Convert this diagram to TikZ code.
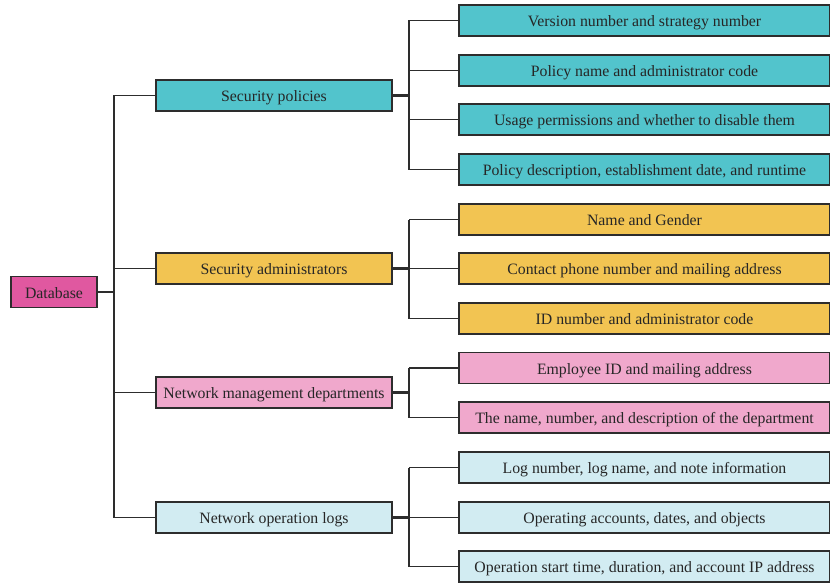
\documentclass[tikz,border=0pt]{standalone}
\usepackage{fontspec}
\setmainfont{Liberation Serif}
\definecolor{cteal}{RGB}{82,196,204}
\definecolor{cyel}{RGB}{242,196,82}
\definecolor{cdb}{RGB}{224,88,160}
\definecolor{cpink}{RGB}{240,168,204}
\definecolor{cblue}{RGB}{210,236,242}
\definecolor{cline}{RGB}{45,45,45}
\begin{document}
\begin{tikzpicture}[x=1pt,y=-1pt,
  box/.style={draw=cline,line width=1.5pt,minimum height=31pt,inner sep=0pt,font=\fontsize{15.8}{18}\selectfont,text=black!85,text height=12.5pt,text depth=0.5pt},
  lone/.style={box,minimum width=236pt},
  ltwo/.style={box,minimum width=371pt},
  conn/.style={draw=cline,line width=1.4pt},
  stub/.style={draw=cline,line width=2.2pt}]
\useasboundingbox (0,0) rectangle (830,583);
\node[box,fill=cdb,minimum width=86pt] (db) at (54,292) {Database};
\node[lone,fill=cteal] (sp) at (274,95.5) {Security policies};
\node[lone,fill=cyel] (sa) at (274,268.5) {Security administrators};
\node[lone,fill=cpink] (nm) at (274,392.5) {Network management departments};
\node[lone,fill=cblue] (nl) at (274,517.5) {Network operation logs};
\node[ltwo,fill=cteal] (a1) at (644.5,20.5) {Version number and strategy number};
\node[ltwo,fill=cteal] (a2) at (644.5,70.5) {Policy name and administrator code};
\node[ltwo,fill=cteal] (a3) at (644.5,119.5) {Usage permissions and whether to disable them};
\node[ltwo,fill=cteal] (a4) at (644.5,169.5) {Policy description, establishment date, and runtime};
\node[ltwo,fill=cyel] (b1) at (644.5,219.5) {Name and Gender};
\node[ltwo,fill=cyel] (b2) at (644.5,268.5) {Contact phone number and mailing address};
\node[ltwo,fill=cyel] (b3) at (644.5,318.5) {ID number and administrator code};
\node[ltwo,fill=cpink] (c1) at (644.5,368) {Employee ID and mailing address};
\node[ltwo,fill=cpink] (c2) at (644.5,417.5) {The name, number, and description of the department};
\node[ltwo,fill=cblue] (d1) at (644.5,467.5) {Log number, log name, and note information};
\node[ltwo,fill=cblue] (d2) at (644.5,517.5) {Operating accounts, dates, and objects};
\node[ltwo,fill=cblue] (d3) at (644.5,566.5) {Operation start time, duration, and account IP address};
\coordinate (t) at (114,292);
\coordinate (ta) at (409,95.5);
\coordinate (tb) at (409,268.5);
\coordinate (tc) at (409,392.5);
\coordinate (td) at (409,517.5);
\draw[stub] (db.east) -- (t);
\draw[conn] (t |- sp.west) -- (t |- nl.west);
\foreach \n in {sp,sa,nm,nl} \draw[conn] (t |- \n.west) -- (\n.west);
\draw[stub] (sp.east) -- (ta);
\draw[stub] (sa.east) -- (tb);
\draw[stub] (nm.east) -- (tc);
\draw[stub] (nl.east) -- (td);
\draw[conn] (ta |- a1.west) -- (ta |- a4.west);
\draw[conn] (tb |- b1.west) -- (tb |- b3.west);
\draw[conn] (tc |- c1.west) -- (tc |- c2.west);
\draw[conn] (td |- d1.west) -- (td |- d3.west);
\foreach \n/\c in {a1/ta,a2/ta,a3/ta,a4/ta,b1/tb,b2/tb,b3/tb,c1/tc,c2/tc,d1/td,d2/td,d3/td}
  \draw[conn] (\c |- \n.west) -- (\n.west);
\end{tikzpicture}
\end{document}
